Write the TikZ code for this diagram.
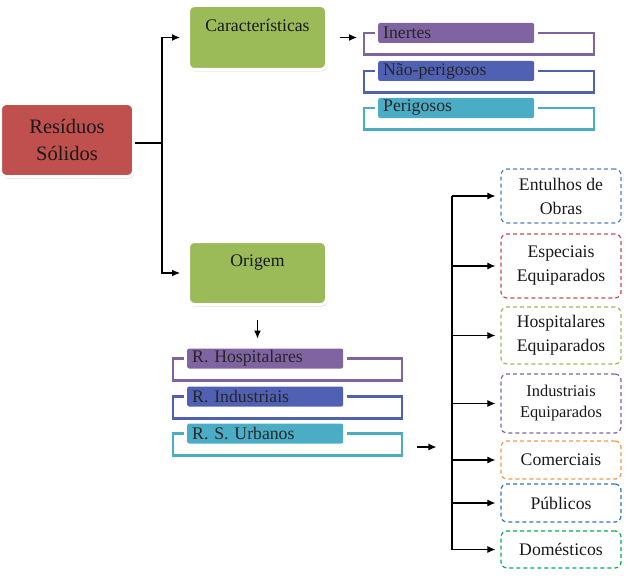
\documentclass[tikz,border=0pt]{standalone}
\usepackage{fontspec}
\setmainfont{Liberation Serif}
\usetikzlibrary{arrows.meta,shadows}
\definecolor{vermelho}{HTML}{C0504D}
\definecolor{verde}{HTML}{9BBB59}
\definecolor{lilas}{HTML}{8064A2}
\definecolor{anil}{HTML}{5061B4}
\definecolor{ciano}{HTML}{4BACC6}
\definecolor{azul}{HTML}{4F81BD}
\definecolor{laranja}{HTML}{F79646}
\definecolor{azulb}{HTML}{2E75B6}
\definecolor{verdeb}{HTML}{00B050}
\begin{document}
\begin{tikzpicture}[x=1pt,y=-1pt,
  seta/.style={-{Latex[length=8pt,width=7pt]},line width=1.1pt},
  caixa/.style={rounded corners=6pt,draw=white,line width=3pt,text=black!90,
    drop shadow={opacity=0.3,shadow xshift=1pt,shadow yshift=-2pt}},
  faixa/.style={rounded corners=2pt,minimum height=20pt,text width=146pt,
    inner xsep=5pt,inner ysep=0pt,anchor=west,text=black!85,
    font=\fontsize{17.7}{20}\selectfont},
  tipo/.style={draw,dash pattern=on 4pt off 3pt,line width=1.2pt,rounded corners=6pt,
    minimum width=120pt,inner ysep=1pt,align=center,text=black!90,
    font=\fontsize{17.7}{24}\selectfont}]
  \useasboundingbox (0,0) rectangle (628,575);

  % caixas principais
  \node[caixa,fill=vermelho,minimum width=133pt,minimum height=73pt,align=center,
    font=\fontsize{20.5}{27}\selectfont] (res) at (67,140) {Resíduos\\Sólidos};
  \node[caixa,fill=verde,minimum width=138pt,inner ysep=3pt,text height=23.5pt,text depth=34.5pt,
    font=\fontsize{17.7}{20}\selectfont] (car) at (257.5,37.5) {Características};
  \node[caixa,fill=verde,minimum width=138pt,inner ysep=3pt,text height=21.5pt,text depth=35.5pt,
    font=\fontsize{17.7}{20}\selectfont] (ori) at (257.5,273) {Origem};

  % ligacoes do topo
  \coordinate (ramo) at (162,143);
  \draw[line width=1.1pt] (res.east |- ramo) -- (ramo);
  \draw[seta] (ramo) |- ([xshift=-7pt]car.west);
  \draw[seta] (ramo) |- ([xshift=-7pt]ori.west);

  % caracteristicas
  \foreach \y/\c/\t/\n in {33/lilas/Inertes/ine,71/anil/Não-perigosos/nper,108/ciano/Perigosos/per}{
    \draw[\c,line width=2.4pt] (375,\y) -- (364,\y) -- (364,\y+21.5) -- (594,\y+21.5) -- (594,\y) -- (538,\y);
    \node[faixa,fill=\c] (\n) at (378,\y) {\t};
  }
  \draw[seta] ([xshift=12pt]car.east) -- ([xshift=-21pt]ine.west |- car.east);

  % origem
  \foreach \y/\c/\t/\n in {358.5/lilas/R. Hospitalares/hos,396.5/anil/R. Industriais/ind,433.5/ciano/R. S. Urbanos/urb}{
    \draw[\c,line width=2.4pt] (184,\y) -- (173,\y) -- (173,\y+22) -- (402,\y+22) -- (402,\y) -- (347,\y);
    \node[faixa,fill=\c] (\n) at (187,\y) {\t};
  }
  \draw[seta] ([yshift=-13.5pt]ori.south) -- ++(0,19);
  \draw[seta] ([shift={(74pt,-13.5pt)}]urb.east) -- ++(19,0);

  % tipos
  \node[tipo,draw=azul,minimum height=54pt] (ent) at (561,196) {Entulhos de\\Obras};
  \node[tipo,draw=vermelho,minimum height=64pt] (esp) at (561,266) {Especiais\\Equiparados};
  \node[tipo,draw=verde,minimum height=57pt] (heq) at (561,335.5) {Hospitalares\\Equiparados};
  \node[tipo,draw=lilas,minimum height=59pt,font=\fontsize{16.4}{21}\selectfont] (ieq) at (561,403.5) {Industriais\\Equiparados};
  \node[tipo,draw=laranja,minimum height=38pt] (com) at (561,460) {Comerciais};
  \node[tipo,draw=azulb,minimum height=38pt] (pub) at (561,503) {Públicos};
  \node[tipo,draw=verdeb,minimum height=37pt] (dom) at (561,549.5) {Domésticos};

  \coordinate (tronco) at (452,195);
  \draw[line width=1.1pt] (tronco |- ent.west) -- (tronco |- dom.west);
  \foreach \n in {ent,esp,heq,ieq,com,pub,dom}
    \draw[seta] (tronco |- \n.west) -- ([xshift=-5pt]\n.west);

\end{tikzpicture}
\end{document}
